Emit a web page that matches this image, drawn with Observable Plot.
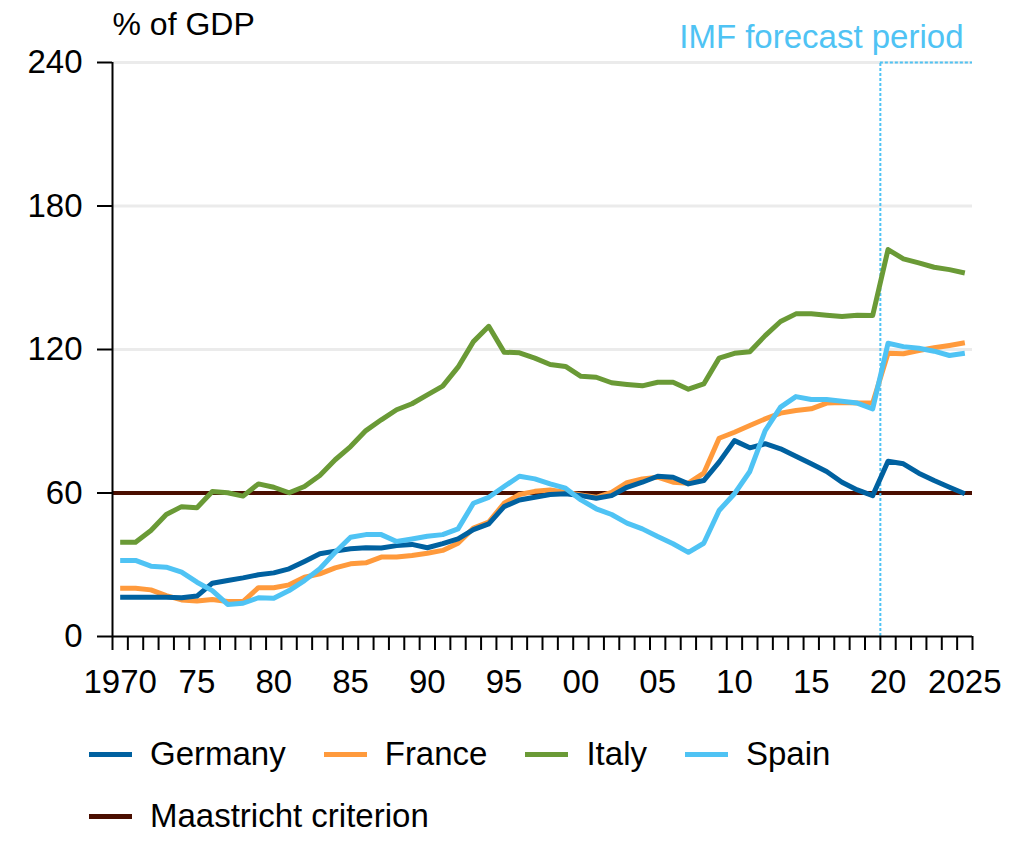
<!DOCTYPE html>
<html>
<head>
<meta charset="utf-8">
<script src="https://cdn.jsdelivr.net/npm/d3@7"></script>
<script src="https://cdn.jsdelivr.net/npm/@observablehq/plot@0.6"></script>
<style>
  body { margin: 0; background: #fff; font-family: "Liberation Sans", Arial, sans-serif; color: #000; }
  #legend { padding-left: 89px; margin-top: 24px; font-size: 33px; }
  .row { display: flex; align-items: center; height: 40px; gap: 38px; }
  .row + .row { margin-top: 22px; }
  .item { display: flex; align-items: center; }
  .sw { width: 43px; height: 5px; margin-right: 18px; }
</style>
</head>
<body>
<div id="chart"></div>
<div id="legend"></div>
<script>
// ---- data ----
const years = [1970,1971,1972,1973,1974,1975,1976,1977,1978,1979,
  1980,1981,1982,1983,1984,1985,1986,1987,1988,1989,
  1990,1991,1992,1993,1994,1995,1996,1997,1998,1999,
  2000,2001,2002,2003,2004,2005,2006,2007,2008,2009,
  2010,2011,2012,2013,2014,2015,2016,2017,2018,2019,
  2020,2021,2022,2023,2024,2025];

const germany = [16.4,16.4,16.4,16.4,16.2,16.9,22.3,23.4,24.5,25.8,
  26.6,28.3,31.4,34.6,35.7,36.7,37.1,37.0,38.0,38.5,
  37.1,38.8,40.8,44.7,47.1,54.3,57.1,58.2,59.4,59.7,
  58.9,57.8,58.9,62.4,64.5,67.0,66.6,63.8,65.2,72.9,
  81.9,78.9,80.6,78.5,75.4,72.2,69.0,64.5,61.3,58.9,
  73.3,72.2,68.3,65.2,62.4,59.7];

const france = [20.2,20.2,19.5,17.1,15.3,14.8,15.5,14.6,14.6,20.4,
  20.4,21.6,24.8,26.2,28.7,30.4,30.8,33.2,33.2,33.9,
  34.8,36.0,39.0,45.3,47.8,55.7,59.4,60.7,61.3,60.3,
  59.2,58.2,60.3,64.3,65.9,66.6,64.5,64.1,68.3,82.9,
  85.4,88.2,91.0,93.4,94.5,95.2,97.6,97.8,97.6,97.6,
  118.4,118.2,119.6,120.7,121.7,122.8];

const italy = [39.4,39.4,44.3,51.0,54.3,53.8,60.6,60.1,58.7,63.8,
  62.4,60.1,62.7,67.3,73.9,79.4,86.1,90.6,94.8,97.3,
  101.0,104.7,112.6,123.3,129.7,118.9,118.6,116.4,113.7,112.9,
  108.8,108.4,106.1,105.4,104.8,106.3,106.3,103.4,105.6,116.4,
  118.4,119.1,125.8,131.7,134.9,134.9,134.3,133.8,134.3,134.2,
  161.8,157.9,156.2,154.4,153.4,152.0];

const spain = [31.8,31.8,29.4,29.0,26.9,22.7,19.2,13.4,13.9,16.2,
  16.0,19.2,23.4,28.3,35.2,41.5,42.6,42.6,39.7,40.8,
  41.9,42.6,45.0,55.7,58.2,62.7,67.0,65.9,63.8,62.0,
  57.1,53.4,51.0,47.4,45.0,41.8,38.8,35.2,39.0,52.7,
  59.7,69.0,86.1,95.9,100.3,99.1,99.1,98.4,97.6,95.2,
  122.6,121.2,120.5,119.3,117.5,118.4];

const countryNames = ["Germany", "France", "Italy", "Spain"];
const countryColors = ["#0061a0", "#ff9a3c", "#6a9a36", "#4fc3f4"];
const maastricht = 60;
const maastrichtLabel = "Maastricht criterion";
const maastrichtColor = "#4a0e00";
const forecastStart = 2019.5;
const forecastLabel = "IMF forecast period";
const yTicks = [0, 60, 120, 180, 240];
const labelYears = [1970,1975,1980,1985,1990,1995,2000,2005,2010,2015,2020,2025];
const yTitle = "% of GDP";

// ---- build table ----
const seriesValues = [germany, france, italy, spain];
const rows = [];
countryNames.forEach((name, k) => {
  seriesValues[k].forEach((v, i) => rows.push({country: name, year: years[i], value: v}));
});
const drawOrder = ["France", "Germany", "Italy", "Spain"];
rows.sort((a, b) => drawOrder.indexOf(a.country) - drawOrder.indexOf(b.country));

const xDomain = [years[0] - 0.5, years[years.length - 1] + 0.5];
const boundaries = years.map(y => y - 0.5).concat([xDomain[1]]);
const fmtYear = y => (y === labelYears[0] || y === labelYears[labelYears.length - 1]) ? String(y) : String(y).slice(2);
const font = '"Liberation Sans", Arial, sans-serif';
const forecastColor = "#4fc3f4";

const chart = Plot.plot({
  width: 1025,
  height: 710,
  marginLeft: 112,
  marginRight: 53,
  marginTop: 62,
  marginBottom: 74,
  style: {fontFamily: font, fontSize: "33px", color: "#000", background: "#fff", overflow: "visible"},
  x: {type: "linear", domain: xDomain, axis: null},
  y: {domain: [yTicks[0], yTicks[yTicks.length - 1]], axis: null},
  color: {domain: countryNames, range: countryColors},
  marks: [
    Plot.gridY(yTicks.filter(d => d > 0), {stroke: "#ebebeb", strokeOpacity: 1, strokeWidth: 3}),
    Plot.ruleY([maastricht], {stroke: maastrichtColor, strokeWidth: 4}),
    Plot.ruleX([forecastStart], {y1: yTicks[0], y2: yTicks[yTicks.length - 1], stroke: forecastColor, strokeWidth: 2, strokeDasharray: "3,2"}),
    Plot.ruleY([yTicks[yTicks.length - 1]], {x1: forecastStart, x2: xDomain[1], stroke: forecastColor, strokeWidth: 2, strokeDasharray: "3,2"}),
    Plot.lineY(rows, {x: "year", y: "value", z: "country", stroke: "country", strokeWidth: 5, strokeLinejoin: "round", strokeLinecap: "butt"}),
    Plot.ruleY([0], {stroke: "#000", strokeWidth: 2}),
    Plot.ruleX([xDomain[0]], {y1: yTicks[0], y2: yTicks[yTicks.length - 1], stroke: "#000", strokeWidth: 2}),
    Plot.axisX(boundaries, {tickSize: 14, tickFormat: () => "", strokeWidth: 2, stroke: "#000", label: null}),
    Plot.axisX(labelYears, {tickSize: 0, tickPadding: 33, tickFormat: fmtYear, fontSize: 33, label: null}),
    Plot.axisY(yTicks, {tickSize: 15, tickPadding: 15, strokeWidth: 2, stroke: "#000", fontSize: 33, label: null}),
    Plot.text([yTitle], {frameAnchor: "top-left", textAnchor: "start", lineAnchor: "middle", dy: -38, fontSize: 32, fill: "#000"}),
    Plot.text([forecastLabel], {frameAnchor: "top-right", textAnchor: "end", lineAnchor: "middle", dx: -9, dy: -25, fontSize: 33, fill: forecastColor})
  ]
});
document.getElementById("chart").appendChild(chart);

// ---- legend ----
const legend = document.getElementById("legend");
function addItem(row, label, color) {
  const item = document.createElement("div");
  item.className = "item";
  const sw = document.createElement("span");
  sw.className = "sw";
  sw.style.background = color;
  const t = document.createElement("span");
  t.textContent = label;
  item.appendChild(sw);
  item.appendChild(t);
  row.appendChild(item);
}
const row1 = document.createElement("div");
row1.className = "row";
countryNames.forEach((n, i) => addItem(row1, n, countryColors[i]));
const row2 = document.createElement("div");
row2.className = "row";
addItem(row2, maastrichtLabel, maastrichtColor);
legend.appendChild(row1);
legend.appendChild(row2);
</script>
</body>
</html>
